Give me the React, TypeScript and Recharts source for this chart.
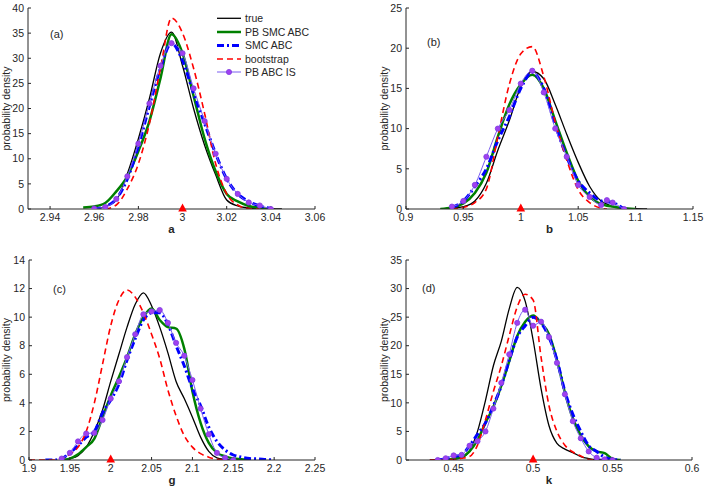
import { LineChart, Line, XAxis, YAxis, ReferenceDot } from "recharts";

const FONT = '"Liberation Sans", Arial, Helvetica, sans-serif';
const INK = "#262626";

// (a) parameter a
const aGrid = [2.95, 2.955, 2.96, 2.965, 2.97, 2.975, 2.98, 2.985, 2.99, 2.995, 3.0, 3.005, 3.01, 3.015, 3.02, 3.025, 3.03, 3.035, 3.04, 3.045];
const aTrue = [null, null, 0, 0.5, 1.8, 7, 14, 22, 31, 35.2, 28.5, 20, 12.7, 6.8, 1.8, 0.6, 0.2, 0.1, 0.05, 0];
const aPbSmc = [null, 0.3, 0.5, 1.2, 3.5, 6.5, 11.5, 17.5, 26, 34.8, 31, 22.5, 14, 7.5, 3, 1.5, 0.6, 0.2, 0, null];
const aSmc = [null, null, 0, 0.5, 2, 6, 12.5, 20.5, 28, 33, 29.5, 23, 17, 11, 6, 3, 1.5, 0.6, 0.1, null];
const aBoot = [null, null, null, 0, 0.8, 4, 9, 17, 28, 38, 35, 28, 19, 9, 3, 0.8, 0.1, 0, null, null];
const aPbIs = [null, null, 0.1, 0.4, 2, 6.5, 13, 21, 28.5, 33, 31, 24, 17.5, 11, 6, 3, 1.3, 0.7, 0, null];

// (b) parameter b
const bGrid = [0.93, 0.94, 0.95, 0.96, 0.97, 0.98, 0.99, 1.0, 1.01, 1.02, 1.03, 1.04, 1.05, 1.06, 1.07, 1.075, 1.08, 1.09, 1.1, 1.11];
const bTrue = [0, 0.1, 0.3, 1, 3.2, 7.3, 11, 15.2, 17.1, 16.2, 13, 9.3, 5.8, 2.8, 1, 0.6, 0.3, 0.1, 0.03, 0];
const bPbSmc = [0, 0.2, 0.7, 2, 4.5, 9, 13, 15.5, 16.7, 15, 11, 7, 3.5, 1.5, 0.6, 0.4, 0.3, 0.1, 0, null];
const bSmc = [null, 0.2, 1, 2.8, 5, 8.5, 11.5, 15, 17, 15, 10.5, 6.5, 3.5, 2, 1, 0.9, 0.8, 0, null, null];
const bBoot = [null, 0, 0.2, 0.8, 2.5, 9, 15.5, 19.3, 20.2, 16.5, 10.8, 6.1, 2.4, 0.8, 0.1, 0, null, null, null, null];
const bPbIs = [null, 0.3, 1, 3, 6.5, 10, 12.3, 15.6, 17.2, 14.5, 10, 6.5, 3, 1.5, 0.5, 1.1, 0.8, 0, null, null];

// (c) parameter g
const cGrid = [1.9, 1.92, 1.93, 1.94, 1.95, 1.96, 1.97, 1.98, 1.99, 2.0, 2.01, 2.02, 2.03, 2.04, 2.05, 2.06, 2.07, 2.08, 2.09, 2.1, 2.11, 2.12, 2.13, 2.14, 2.15, 2.16, 2.17, 2.18, 2.19, 2.2];
const cTrue = [null, null, null, 0, 0.1, 0.3, 0.9, 2, 3.5, 5.5, 7.4, 9.3, 10.9, 11.7, 10.8, 9.3, 7.5, 5.5, 4.3, 3, 1.6, 0.6, 0.15, 0.05, 0, null, null, null, null, null];
const cPbSmc = [null, null, null, 0, 0.1, 0.4, 0.9, 1.5, 3, 4.5, 5.8, 7.2, 8.8, 10, 10.6, 9.8, 9.3, 9.2, 7.8, 4.8, 2.6, 1.2, 0.5, 0.25, 0.1, 0.05, 0, null, null, null];
const cSmc = [null, 0, 0, 0.1, 0.5, 1, 1.6, 2, 3.3, 4.2, 5.3, 7, 8.5, 9.8, 10.3, 10.3, 9.5, 8, 6.6, 5, 3.8, 2.3, 1.3, 0.7, 0.35, 0.2, 0.1, 0.08, 0.03, 0];
const cBoot = [0, 0, 0, 0.1, 0.4, 0.9, 2, 4, 6.7, 9.4, 11.2, 11.9, 11.4, 10.3, 8.8, 7.1, 4.9, 3.1, 1.7, 0.9, 0.45, 0.2, 0.05, 0, null, null, null, null, null, null];
const cPbIs = [null, null, null, 0.1, 0.5, 1.3, 1.85, 1.9, 2.8, 4.3, 5.5, 7.2, 8.8, 10.2, 10.4, 10.5, 9.6, 8.2, 7.3, 5.6, 3.6, 1.8, 0.5, 0.15, 0, null, null, null, null, null];

// (d) parameter k
const dGrid = [0.43, 0.435, 0.44, 0.445, 0.45, 0.455, 0.46, 0.465, 0.47, 0.475, 0.48, 0.485, 0.49, 0.495, 0.5, 0.505, 0.51, 0.515, 0.52, 0.525, 0.53, 0.535, 0.54, 0.545, 0.55, 0.555, 0.56];
const dTrue = [null, 0, 0.02, 0.05, 0.15, 0.4, 1.6, 5, 10.4, 16.5, 20.8, 26.5, 30.2, 27.8, 21, 12.5, 6, 2.9, 1.9, 1.3, 0.6, 0.25, 0.05, 0, null, null, null];
const dPbSmc = [null, null, 0, 0.05, 0.2, 0.5, 1.5, 3.5, 6.5, 9.3, 13, 17.3, 21.7, 24.2, 25.3, 24, 22, 17.5, 11.8, 7.3, 4.3, 2.4, 1.5, 1.2, 0.2, 0, null];
const dSmc = [null, null, 0, 0.2, 0.6, 0.9, 2.5, 4.5, 6.5, 9.5, 13, 17.5, 21.5, 23.5, 25, 24, 21.5, 17.5, 12, 8, 5, 2.5, 1.5, 0.5, 0.1, 0, null];
const dBoot = [null, 0, 0.02, 0.05, 0.1, 0.3, 0.6, 2.6, 7, 12, 16.5, 21.8, 26.8, 29, 28, 18, 9.5, 5, 2.6, 1.4, 0.7, 0.1, 0, null, null, null, null];
const dPbIs = [null, null, 0, 0.3, 0.8, 0.9, 2.5, 3.3, 5, 9, 13.5, 18.5, 24, 26.3, 23.5, 24.2, 21.5, 17, 11.5, 6.8, 3.8, 1.5, 0.4, 0.1, 0, null, null];

const LEGEND = ["true", "PB SMC ABC", "SMC ABC", "bootstrap", "PB ABC IS"];

const PURPLE_LINE = "#7a5cf0";
const PURPLE_DOT = "#a040f0";

const Tri = (props: any) => {
  const { cx, cy } = props;
  return (
    <polygon
      points={`${cx},${cy - 5.5} ${cx - 4.3},${cy + 2.5} ${cx + 4.3},${cy + 2.5}`}
      fill="#ff0000"
    />
  );
};

type PanelProps = {
  left: number;
  top: number;
  yWidth: number;
  right: number;
  mTop: number;
  mBottom: number;
  labelOffset: number;
  grid: number[];
  cols: (number | null)[][];
  xDomain: [number, number];
  xTicks: number[];
  yMax: number;
  yTicks: number[];
  xLabel: string;
  trueValue: number;
};

function Panel(p: PanelProps) {
  const rows = p.grid.map((x, i) => ({
    x,
    t: p.cols[0][i],
    g: p.cols[1][i],
    s: p.cols[2][i],
    b: p.cols[3][i],
    p: p.cols[4][i],
  }));
  const tickStyle = { fill: INK, fontSize: 10.5, fontFamily: FONT };
  return (
    <div style={{ position: "absolute", left: p.left, top: p.top }}>
      <LineChart
        width={354}
        height={245}
        data={rows}
        margin={{ top: p.mTop, right: p.right, bottom: p.mBottom, left: 0 }}
      >
        <XAxis
          type="number"
          dataKey="x"
          domain={p.xDomain}
          ticks={p.xTicks}
          allowDataOverflow
          height={30}
          stroke={INK}
          tickSize={-3}
          tickMargin={8}
          tick={tickStyle}
          label={{
            value: p.xLabel,
            position: "insideBottom",
            offset: 6,
            fill: INK,
            fontSize: 11.5,
            fontWeight: "bold",
            fontFamily: FONT,
          }}
        />
        <YAxis
          type="number"
          domain={[0, p.yMax]}
          ticks={p.yTicks}
          allowDataOverflow
          width={p.yWidth}
          stroke={INK}
          tickSize={-3}
          tickMargin={7}
          tick={tickStyle}
          label={{
            value: "probability density",
            angle: -90,
            position: "insideLeft",
            offset: p.labelOffset,
            fill: INK,
            fontSize: 10.5,
            fontFamily: FONT,
            style: { textAnchor: "middle" },
          }}
        />
        <Line dataKey="t" type="monotone" stroke="#000000" strokeWidth={1.3} dot={false} activeDot={false} isAnimationActive={false} />
        <Line dataKey="g" type="monotone" stroke="#008000" strokeWidth={2.5} dot={false} activeDot={false} isAnimationActive={false} />
        <Line dataKey="s" type="monotone" stroke="#0000ff" strokeWidth={3} strokeDasharray="7 3 2 3" dot={false} activeDot={false} isAnimationActive={false} />
        <Line dataKey="b" type="monotone" stroke="#ff0000" strokeWidth={1.6} strokeDasharray="6 4" dot={false} activeDot={false} isAnimationActive={false} />
        <Line
          dataKey="p"
          type="monotone"
          stroke={PURPLE_LINE}
          strokeWidth={1}
          dot={{ r: 2.6, fill: PURPLE_DOT, stroke: "#7f3ee0", strokeWidth: 0.8 }}
          activeDot={false}
          isAnimationActive={false}
        />
        <ReferenceDot x={p.trueValue} y={0} r={4} ifOverflow="visible" shape={Tri} />
      </LineChart>
    </div>
  );
}

function Overlay() {
  const rows = [18.3, 32, 45.5, 59, 72];
  const txt = { fontFamily: FONT, fontSize: 10.5, fill: INK };
  return (
    <svg
      width={708}
      height={489}
      style={{ position: "absolute", left: 0, top: 0, pointerEvents: "none" }}
    >
      <text x={50} y={38} {...txt} fontSize={11}>(a)</text>
      <text x={427} y={46} {...txt} fontSize={11}>(b)</text>
      <text x={53} y={293} {...txt} fontSize={11}>(c)</text>
      <text x={422} y={292} {...txt} fontSize={11}>(d)</text>
      <line x1={217} x2={241} y1={rows[0]} y2={rows[0]} stroke="#000" strokeWidth={1.3} />
      <line x1={217} x2={241} y1={rows[1]} y2={rows[1]} stroke="#008000" strokeWidth={2.5} />
      <line x1={217} x2={241} y1={rows[2]} y2={rows[2]} stroke="#0000ff" strokeWidth={3} strokeDasharray="7 3 2 3" />
      <line x1={217} x2={241} y1={rows[3]} y2={rows[3]} stroke="#ff0000" strokeWidth={1.6} strokeDasharray="6 4" />
      <line x1={217} x2={241} y1={rows[4]} y2={rows[4]} stroke={PURPLE_LINE} strokeWidth={1} />
      <circle cx={229} cy={rows[4]} r={2.6} fill={PURPLE_DOT} stroke="#7f3ee0" strokeWidth={0.8} />
      {LEGEND.map((name, i) => (
        <text key={name} x={245} y={rows[i] + 3.8} {...txt}>
          {name}
        </text>
      ))}
    </svg>
  );
}

export default function App() {
  return (
    <div style={{ position: "relative", width: 708, height: 489, overflow: "hidden", background: "#fff" }}>
      <style>{`body{margin:0;overflow:hidden}`}</style>
      <Panel
        left={0} top={0} yWidth={28} right={39} mTop={8} mBottom={6} labelOffset={6}
        grid={aGrid} cols={[aTrue, aPbSmc, aSmc, aBoot, aPbIs]}
        xDomain={[2.93, 3.06]} xTicks={[2.94, 2.96, 2.98, 3, 3.02, 3.04, 3.06]}
        yMax={40} yTicks={[0, 5, 10, 15, 20, 25, 30, 35, 40]} xLabel="a" trueValue={3}
      />
      <Panel
        left={354} top={0} yWidth={52} right={15} mTop={8} mBottom={6} labelOffset={30}
        grid={bGrid} cols={[bTrue, bPbSmc, bSmc, bBoot, bPbIs]}
        xDomain={[0.9, 1.15]} xTicks={[0.9, 0.95, 1, 1.05, 1.1, 1.15]}
        yMax={25} yTicks={[0, 5, 10, 15, 20, 25]} xLabel="b" trueValue={1}
      />
      <Panel
        left={0} top={245} yWidth={29} right={39} mTop={15} mBottom={0} labelOffset={6}
        grid={cGrid} cols={[cTrue, cPbSmc, cSmc, cBoot, cPbIs]}
        xDomain={[1.9, 2.25]} xTicks={[1.9, 1.95, 2, 2.05, 2.1, 2.15, 2.2, 2.25]}
        yMax={14} yTicks={[0, 2, 4, 6, 8, 10, 12, 14]} xLabel="g" trueValue={2}
      />
      <Panel
        left={354} top={245} yWidth={52} right={16} mTop={15} mBottom={0} labelOffset={30}
        grid={dGrid} cols={[dTrue, dPbSmc, dSmc, dBoot, dPbIs]}
        xDomain={[0.42, 0.6]} xTicks={[0.45, 0.5, 0.55, 0.6]}
        yMax={35} yTicks={[0, 5, 10, 15, 20, 25, 30, 35]} xLabel="k" trueValue={0.5}
      />
      <Overlay />
    </div>
  );
}
